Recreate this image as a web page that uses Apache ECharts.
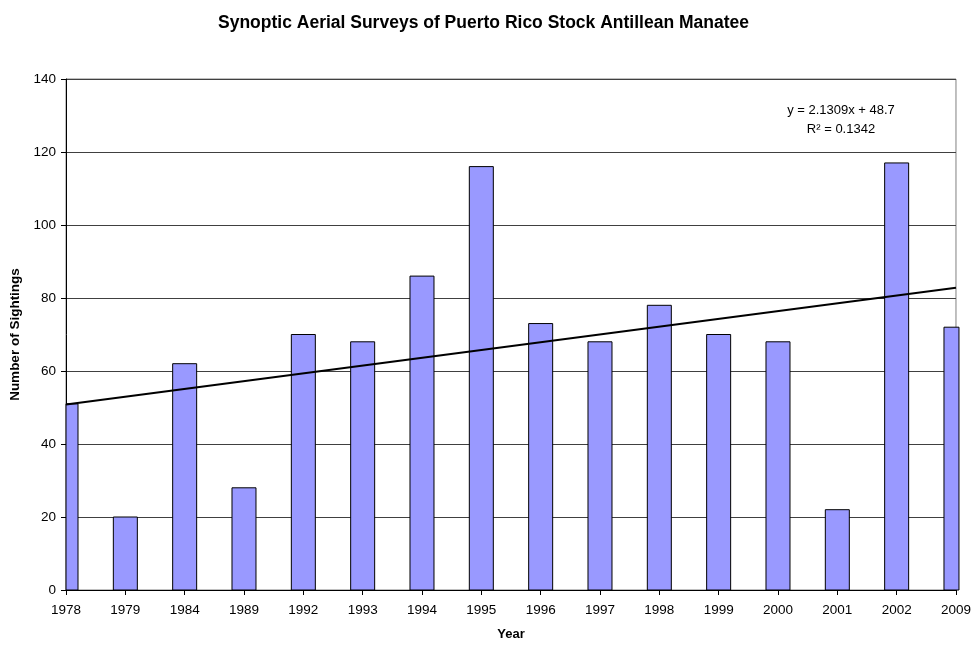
<!DOCTYPE html>
<html>
<head>
<meta charset="utf-8">
<script src="https://cdn.jsdelivr.net/npm/echarts@6/dist/echarts.min.js"></script>
<style>html,body{margin:0;padding:0;background:#fff;}#c{width:974px;height:646px;}</style>
</head>
<body>
<div id="c"></div>
<script>
const years = ['1978','1979','1984','1989','1992','1993','1994','1995','1996','1997','1998','1999','2000','2001','2002','2009'];
const sightings = [51,20,62,28,70,68,86,116,73,68,78,70,68,22,117,72];
const yTicks = [0,20,40,60,80,100,120,140];
const trendStart = 50.8;
const trendEnd = 82.8;
const trendLabel = ['y = 2.1309x + 48.7', 'R\u00B2 = 0.1342'];

const chart = echarts.init(document.getElementById('c'));
const font = 'Liberation Sans, Arial, sans-serif';
const BAR_W = 24;
chart.setOption({
  animation: false,
  backgroundColor: '#fff',
  title: {
    text: 'Synoptic Aerial Surveys of Puerto Rico Stock Antillean Manatee',
    left: 213, top: 9,
    textStyle: {fontFamily: font, fontSize: 17.5, fontWeight: 'bold', color: '#000'}
  },
  graphic: [{
    type: 'text', x: 841, y: 101, z: 10,
    style: {text: trendLabel.join('\n'), fontFamily: font, fontSize: 13, fill: '#000', align: 'center', lineHeight: 19}
  }],
  grid: {left: 66, right: 16, top: 79, bottom: 54, show: true, borderColor: '#808080', borderWidth: 1},
  xAxis: {
    type: 'category', data: years, boundaryGap: false,
    name: 'Year', nameLocation: 'middle', nameGap: 38,
    nameTextStyle: {fontFamily: font, fontSize: 13, fontWeight: 'bold', color: '#000'},
    axisLine: {lineStyle: {color: '#000', width: 1}},
    axisTick: {show: true, length: 5, lineStyle: {color: '#000'}},
    axisLabel: {fontFamily: font, fontSize: 13.5, color: '#000', margin: 13, interval: 0},
    splitLine: {show: false}
  },
  yAxis: {
    type: 'value', min: 0, max: 140, interval: 20,
    name: 'Number of Sightings', nameLocation: 'middle', nameGap: 43,
    nameTextStyle: {fontFamily: font, fontSize: 13.5, fontWeight: 'bold', color: '#000'},
    axisLine: {show: true, lineStyle: {color: '#000', width: 1}},
    axisTick: {show: true, length: 5, lineStyle: {color: '#000'}},
    axisLabel: {fontFamily: font, fontSize: 13.5, color: '#000', margin: 10,
      formatter: v => yTicks.includes(v) ? String(v) : ''},
    splitLine: {show: true, lineStyle: {color: '#404040', width: 1}}
  },
  series: [{
    type: 'custom',
    data: sightings.map((v, i) => [i, v]),
    encode: {x: 0, y: 1},
    renderItem: function (params, api) {
      const top = api.coord([api.value(0), api.value(1)]);
      const base = api.coord([api.value(0), 0]);
      const cs = params.coordSys;
      const rect = echarts.graphic.clipRectByRect(
        {x: top[0] - BAR_W / 2, y: top[1], width: BAR_W, height: base[1] - top[1]},
        {x: cs.x, y: cs.y, width: cs.width + 3, height: cs.height}
      );
      if (!rect) return null;
      return {type: 'rect', shape: rect, style: {fill: '#9999ff', stroke: '#000', lineWidth: 1}};
    },
    z: 2
  }, {
    type: 'line',
    data: [[years[0], trendStart], [years[years.length - 1], trendEnd]],
    symbol: 'none', silent: true,
    lineStyle: {color: '#000', width: 2},
    z: 5
  }]
});
</script>
</body>
</html>
